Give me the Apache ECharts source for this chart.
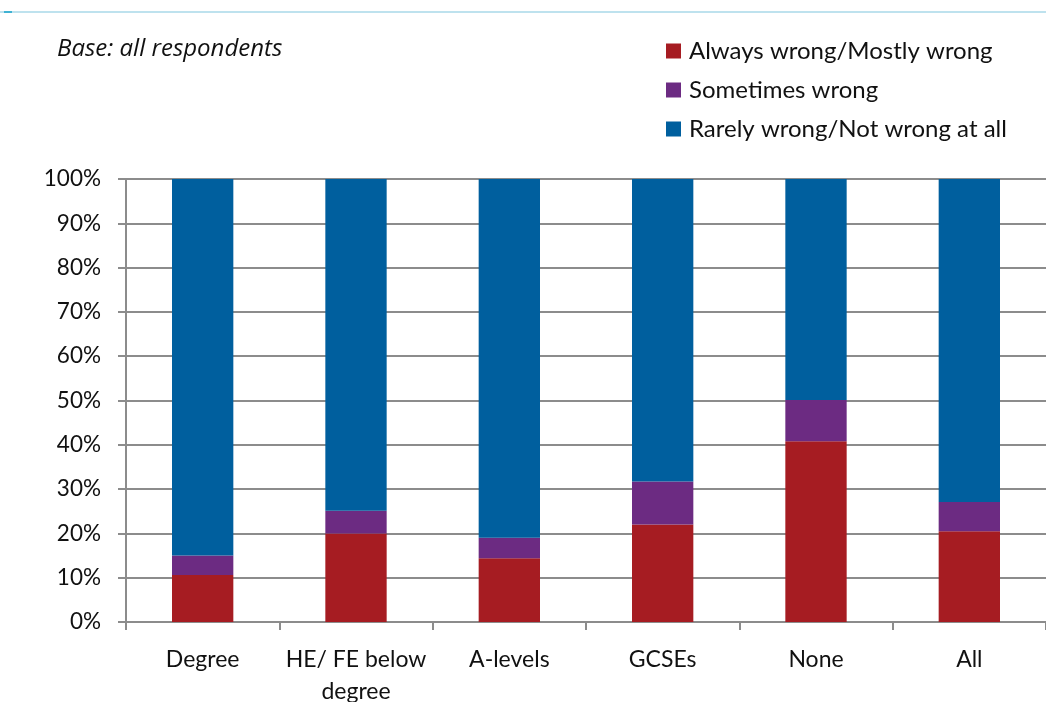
<!DOCTYPE html>
<html>
<head>
<meta charset="utf-8">
<script src="https://cdn.jsdelivr.net/npm/echarts@6/dist/echarts.min.js"></script>
<style>
  html, body { margin: 0; padding: 0; background: #fff; }
  #chart { width: 1046px; height: 702px; }
</style>
</head>
<body>
<div id="chart"></div>
<script>
// education levels on the x axis
var categories = ['Degree', 'HE/ FE below\ndegree', 'A-levels', 'GCSEs', 'None', 'All'];
// shares in %
var alwaysWrong = [10.6, 20.0, 14.4, 22.0, 40.8, 20.5];
var sometimesWrong = [4.4, 5.1, 4.6, 9.7, 9.3, 6.6];
var rarelyWrong = [85.0, 74.9, 81.0, 68.3, 49.9, 72.9];
var seriesNames = ['Always wrong/Mostly wrong', 'Sometimes wrong', 'Rarely wrong/Not wrong at all'];
var yTicks = [0, 100, 10]; // min, max, interval

var font = 'Lato, "Open Sans", sans-serif';
var gridGray = '#8c8c8c';

var chart = echarts.init(document.getElementById('chart'));
var option = {
  animation: false,
  textStyle: { fontFamily: font },
  color: ['#a61c22', '#6c2b82', '#005f9e'],
  graphic: [
    { type: 'line', shape: { x1: 0, y1: 12, x2: 1046, y2: 12 }, style: { stroke: '#a9d8e8', lineWidth: 1.5 } },
    { type: 'line', shape: { x1: 4, y1: 12, x2: 12, y2: 12 }, style: { stroke: '#3fb2d3', lineWidth: 2 } },
    {
      type: 'text', left: 57, top: 37,
      style: { text: 'Base: all respondents', font: 'italic 24px "Open Sans", sans-serif', fill: '#111' }
    }
  ],
  legend: {
    orient: 'vertical',
    left: 661,
    top: 34,
    itemWidth: 15,
    itemHeight: 15,
    itemGap: 15,
    icon: 'rect',
    textStyle: { fontSize: 24, color: '#111', fontFamily: font, padding: [0, 0, 0, 3] },
    data: seriesNames
  },
  grid: { left: 126, right: 0, top: 179, bottom: 80, containLabel: false, outerBoundsMode: 'none' },
  xAxis: {
    type: 'category',
    data: categories,
    axisLine: { lineStyle: { color: gridGray, width: 2 } },
    axisTick: { show: true, interval: 0, length: 8, lineStyle: { color: gridGray, width: 2 } },
    axisLabel: { interval: 0, fontSize: 23, color: '#111', margin: 22, lineHeight: 32, fontFamily: font }
  },
  yAxis: {
    type: 'value',
    min: yTicks[0],
    max: yTicks[1],
    interval: yTicks[2],
    axisLine: { show: true, lineStyle: { color: gridGray, width: 2 } },
    axisTick: { show: true, length: 8, lineStyle: { color: gridGray, width: 2 } },
    splitLine: { lineStyle: { color: gridGray, width: 2 } },
    axisLabel: { formatter: '{value}%', fontSize: 22.5, color: '#111', margin: 25, fontFamily: font }
  },
  series: [
    { name: seriesNames[0], type: 'bar', stack: 'total', barWidth: '40%', data: alwaysWrong },
    { name: seriesNames[1], type: 'bar', stack: 'total', barWidth: '40%', data: sometimesWrong },
    { name: seriesNames[2], type: 'bar', stack: 'total', barWidth: '40%', data: rarelyWrong }
  ]
};
chart.setOption(option);
</script>
</body>
</html>
